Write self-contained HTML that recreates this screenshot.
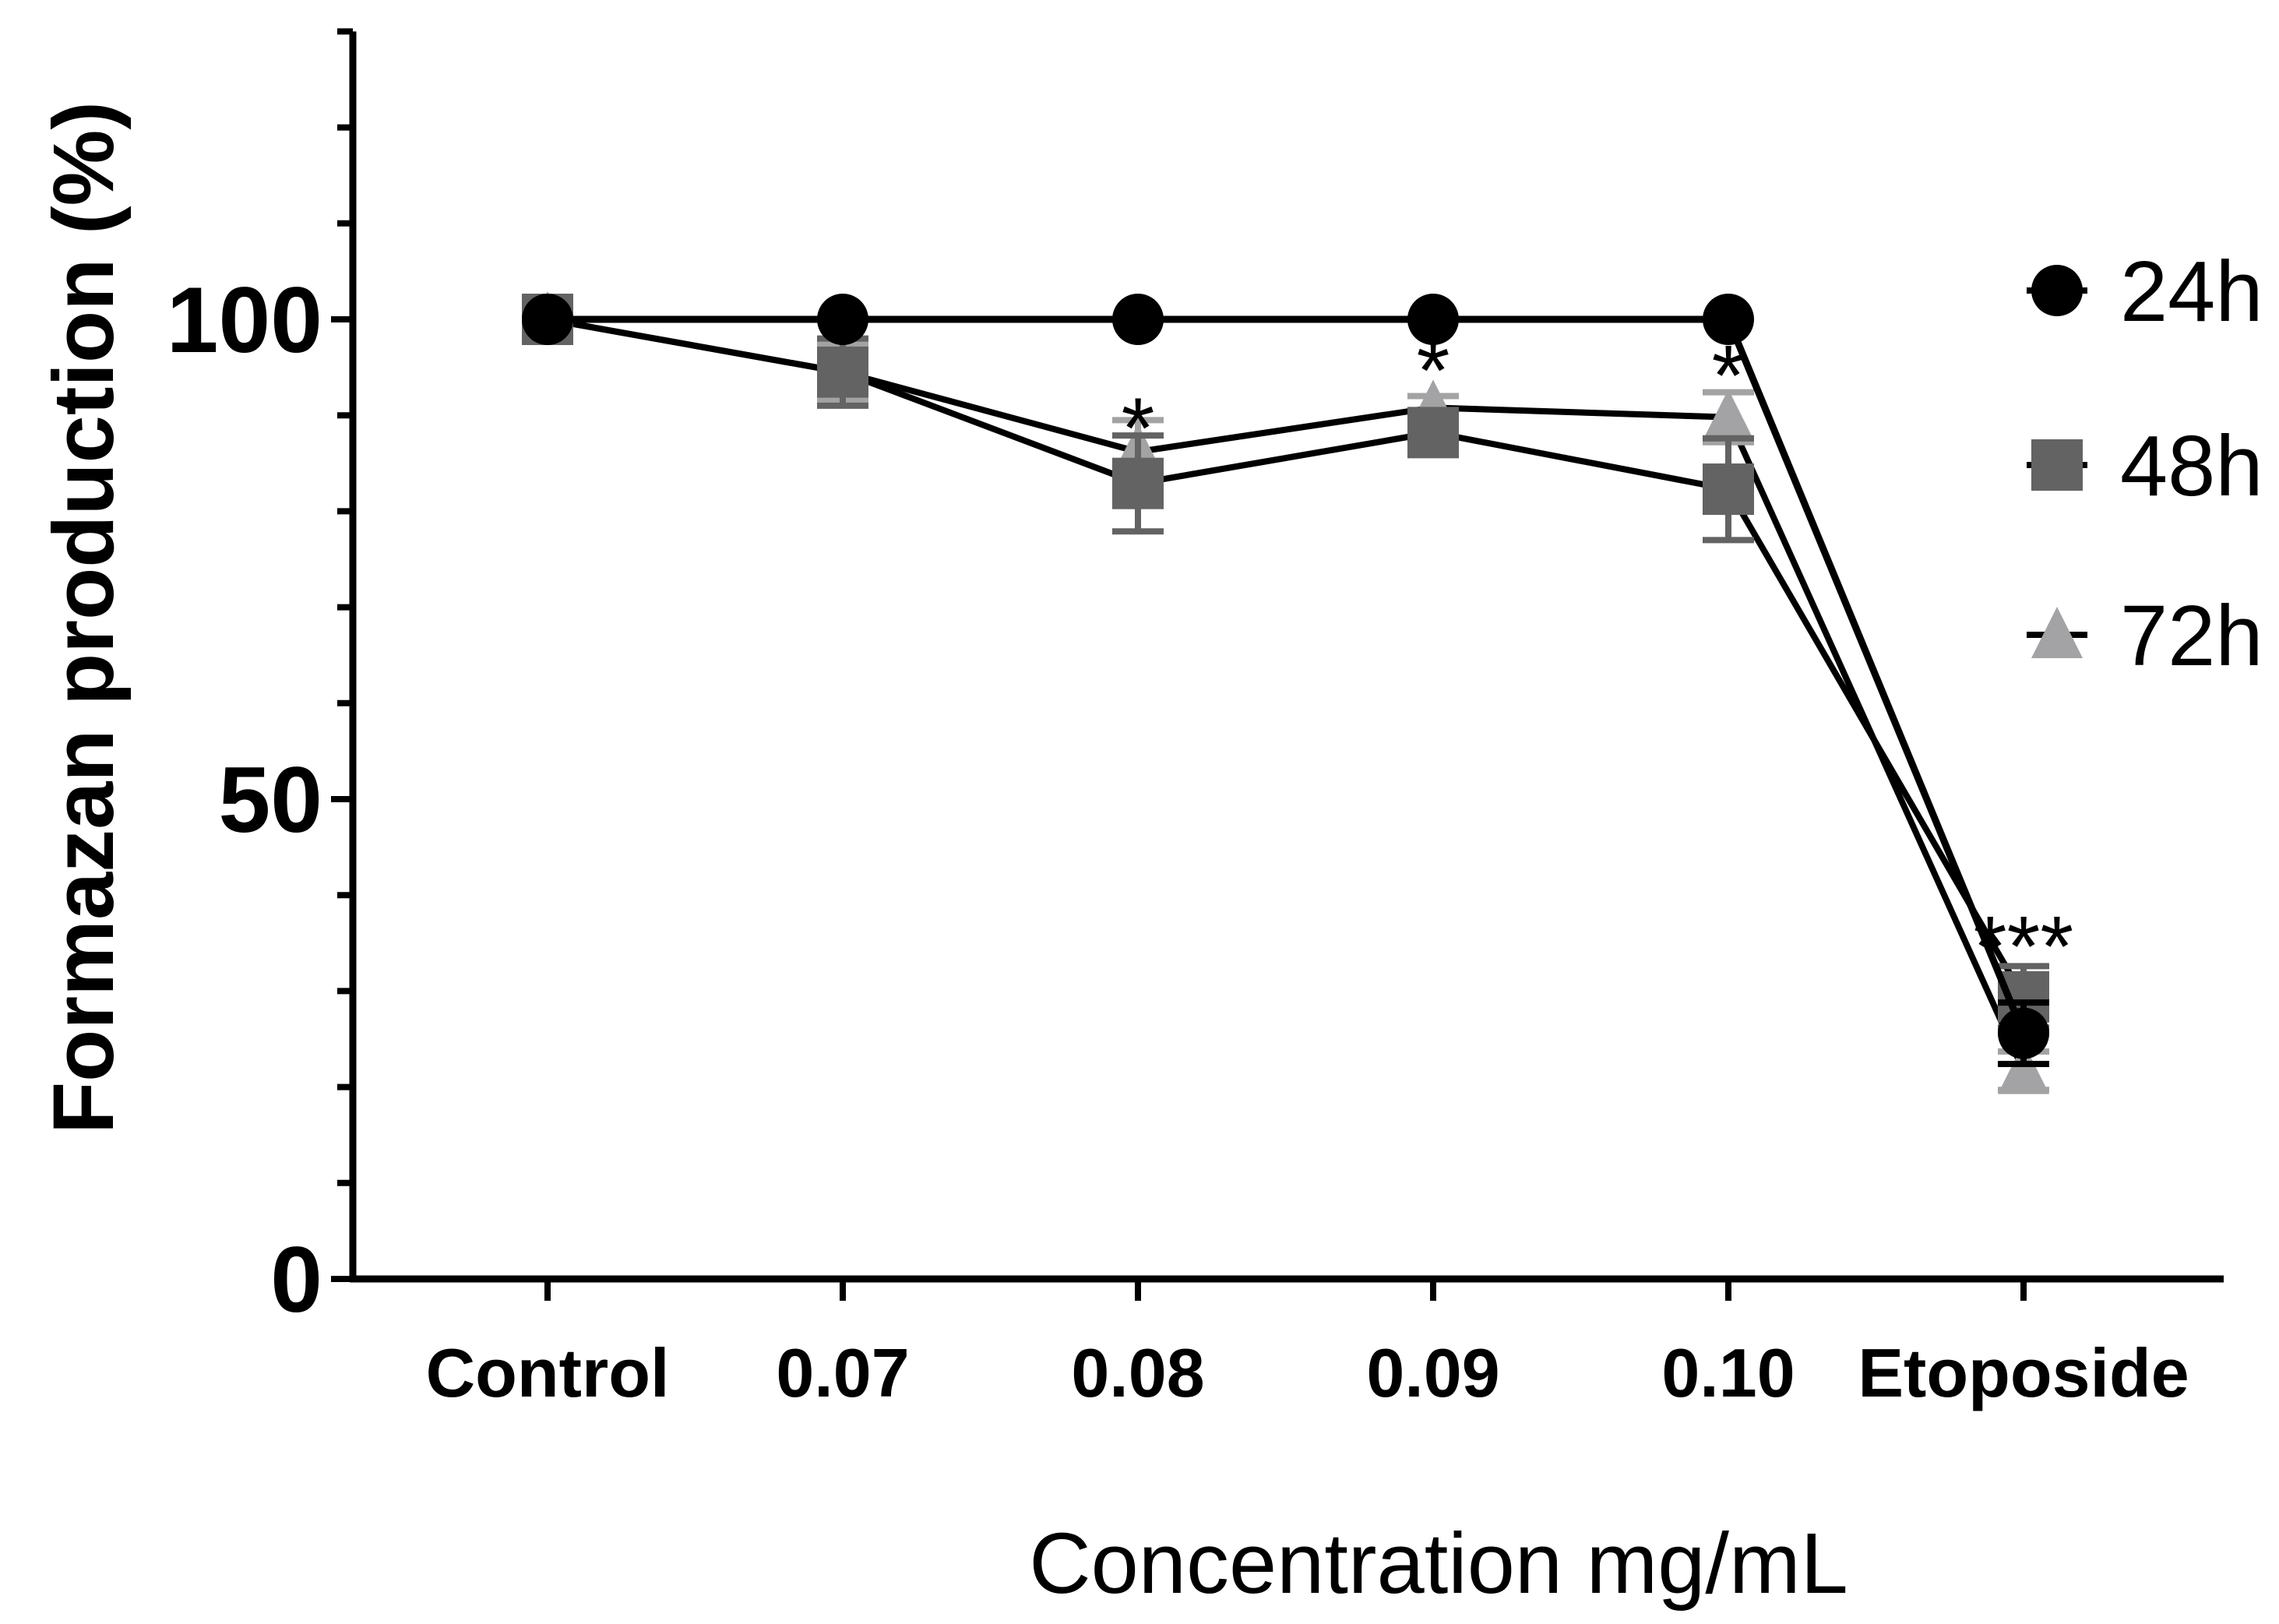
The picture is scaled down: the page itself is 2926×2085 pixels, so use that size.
<!DOCTYPE html>
<html><head><meta charset="utf-8"><style>
html,body{margin:0;padding:0;background:#fff;}
svg{display:block;font-family:"Liberation Sans",Arial,sans-serif;}
</style></head><body>
<svg id="chart" width="2926" height="2085" viewBox="0 0 2926 2085" xmlns="http://www.w3.org/2000/svg">
<g id="axes"></g>
<g id="series"></g>
<g id="legend"></g>
</svg>
<script>
const categories = ["Control","0.07","0.08","0.09","0.10","Etoposide"];
const v24 = [100,100,100,100,100,25.6];
const e24 = [0,0,0,0,0,3.2];
const v48 = [100,94.5,82.9,88.2,82.3,29.4];
const e48 = [0,3.5,5,0,5.3,3.2];
const v72 = [100,94.5,86.2,90.8,89.8,21.7];
const e72 = [0,3,3.3,1.2,2.6,2];
const yTicks = [0,50,100];
const stars = ["","","*","*","*","***"];
const starVals = [0,0,89,95,94.5,35];

const NS="http://www.w3.org/2000/svg";
const x0=703, dx=379, yBase=1642, yScale=12.32;
const X=i=>x0+i*dx, Y=v=>yBase-v*yScale;
function mk(tag,attrs,parent,txt){const e=document.createElementNS(NS,tag);for(const k in attrs)e.setAttribute(k,attrs[k]);if(txt!==undefined)e.textContent=txt;parent.appendChild(e);return e;}
const axes=document.getElementById('axes'), ser=document.getElementById('series'), leg=document.getElementById('legend');

let a=mk('line',{x1:453,y1:Y(130),x2:453,y2:yBase+4,stroke:'#000','stroke-width':9},axes);


a=mk('line',{x1:449,y1:yBase,x2:2855,y2:yBase,stroke:'#000','stroke-width':9},axes);


for(let v=0;v<=130;v+=10){
  const major=yTicks.includes(v);
  const t=mk('line',{x1:major?425:433,y1:Y(v),x2:453,y2:Y(v),stroke:'#000','stroke-width':8},axes);
  
  
}
yTicks.forEach(v=>{
  const t=mk('text',{x:414,y:Y(v)+42,'text-anchor':'end','font-size':120,'font-weight':'bold'},axes,String(v));
  
  
});
categories.forEach((c,i)=>{
  const t=mk('line',{x1:X(i),y1:yBase,x2:X(i),y2:yBase+28,stroke:'#000','stroke-width':8},axes);
  
  
  const l=mk('text',{x:X(i),y:1793,'text-anchor':'middle','font-size':88,'font-weight':'bold'},axes,c);
  
  
});
let tt=mk('text',{x:1847,y:2045,'text-anchor':'middle','font-size':110},axes,'Concentration mg/mL');


tt=mk('text',{x:0,y:0,'text-anchor':'middle','font-size':110,'font-weight':'bold',transform:'translate(145,793) rotate(-90)'},axes,'Formazan production (%)');



function marker(shape,cx,cy,color,parent){
  let m;
  if(shape==='circle') m=mk('circle',{cx:cx,cy:cy,r:33,fill:color},parent);
  else if(shape==='square') m=mk('rect',{x:cx-33,y:cy-33,width:66,height:66,fill:color},parent);
  else m=mk('polygon',{points:`${cx},${cy-36} ${cx-33},${cy+30} ${cx+33},${cy+30}`,fill:color},parent);
  return m;
}
function drawSeries(name,vals,errs,color,shape,lw){
  const g=mk('g',{},ser);
  
  
  const pts=vals.map((v,i)=>X(i)+','+Y(v)).join(' ');
  const pl=mk('polyline',{points:pts,fill:'none',stroke:'#000','stroke-width':lw},g);
  
  
  vals.forEach((v,i)=>{
    if(errs[i]>0){
      const eb=mk('path',{d:`M${X(i)},${Y(v+errs[i])}V${Y(v-errs[i])}M${X(i)-33},${Y(v+errs[i])}h66M${X(i)-33},${Y(v-errs[i])}h66`,stroke:color,'stroke-width':8,fill:'none'},g);
      
      
    }
    const m=marker(shape,X(i),Y(v),color,g);
    
    
  });
}
drawSeries('72h',v72,e72,'#a3a3a5','triangle',8);
drawSeries('48h',v48,e48,'#636363','square',8);
drawSeries('24h',v24,e24,'#000','circle',9);

stars.forEach((s,i)=>{
  if(!s) return;
  const t=mk('text',{x:X(i),y:Y(starVals[i])+42,'text-anchor':'middle','font-size':110},ser,s);
  
  
});

const legItems=[['24h','circle','#000',373],['48h','square','#636363',597],['72h','triangle','#a3a3a5',815]];
legItems.forEach(([n,s,c,y])=>{
  const g=mk('g',{},leg);
  
  
  mk('line',{x1:2602,y1:y,x2:2680,y2:y,stroke:'#000','stroke-width':8},g);
  marker(s,2641,y,c,g);
  mk('text',{x:2722,y:y+39,'font-size':110},g,n);
});
</script>
</body></html>
